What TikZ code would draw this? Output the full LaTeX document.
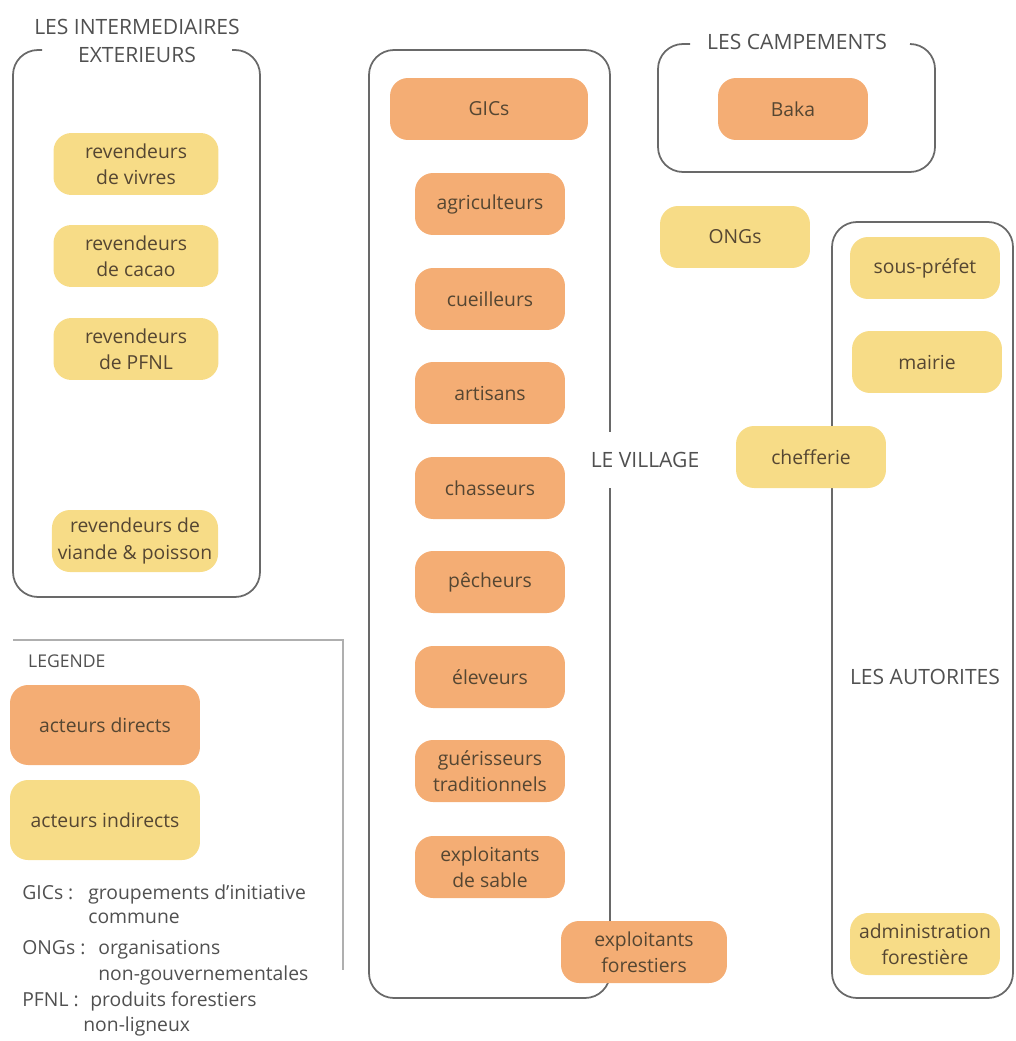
\documentclass[tikz,border=0pt]{standalone}
\usepackage{fontspec}
\setmainfont{Open Sans}
\usetikzlibrary{positioning}

\definecolor{orangeact}{RGB}{244,173,116}
\definecolor{jauneact}{RGB}{247,220,135}
\definecolor{traitgris}{RGB}{105,105,105}
\definecolor{legendgris}{RGB}{175,175,175}
\definecolor{textegris}{RGB}{80,80,80}
\definecolor{textebrun}{RGB}{85,70,50}

\tikzset{
  acteur/.style={rounded corners=0.36cm, minimum width=3cm, minimum height=1.24cm,
    align=center, text=textebrun, font=\fontsize{11}{15}\selectfont},
  direct/.style={acteur, fill=orangeact},
  indirect/.style={acteur, fill=jauneact},
  cadre/.style={draw=traitgris, line width=1pt, rounded corners=0.5cm},
  titre/.style={text=textegris, align=center, font=\fontsize{12}{15.5}\selectfont},
  abrev/.style={anchor=base west, text=textegris, inner sep=0pt, font=\fontsize{11}{13}\selectfont},
}

\begin{document}
\begin{tikzpicture}[x=0.02cm,y=-0.02cm]
\useasboundingbox (0,0) rectangle (1016,1041);

% les intermediaires exterieurs
\draw[cadre] (42,50) -- (13,50) -- (13,597) -- (260,597) -- (260,50) -- (232,50);
\node[titre] (interm) at (137,41) {LES INTERMEDIAIRES\\EXTERIEURS};
\node[indirect, minimum width=3.3cm] (vivres) at (136,164) {revendeurs\\de vivres};
\node[indirect, minimum width=3.3cm] (cacao) at (136,256) {revendeurs\\de cacao};
\node[indirect, minimum width=3.3cm] (pfnl) at (136,349) {revendeurs\\de PFNL};
\node[indirect, minimum width=3.3cm] (viande) at (135,541) {revendeurs de\\viande \& poisson};

% le village
\draw[cadre] (369,50) rectangle (610,998);
\node[titre, fill=white, inner xsep=2pt, inner ysep=0.4cm] (village) at (645,460) {LE VILLAGE};
\node[direct, minimum width=3.96cm] (gics) at (489,109) {GICs};
\node[direct] (agri) at (490,204) {agriculteurs};
\node[direct] (cueil) at (490,299) {cueilleurs};
\node[direct] (artis) at (490,393) {artisans};
\node[direct] (chass) at (490,488) {chasseurs};
\node[direct] (pech) at (490,582) {pêcheurs};
\node[direct] (elev) at (490,677) {éleveurs};
\node[direct] (gueri) at (490,771) {guérisseurs\\traditionnels};
\node[direct] (sable) at (490,867) {exploitants\\de sable};
\node[direct, minimum width=3.32cm] (forest) at (644,952) {exploitants\\forestiers};

% les campements
\draw[cadre] (690,44) -- (658,44) -- (658,172) -- (935,172) -- (935,44) -- (910,44);
\node[titre] (campem) at (797,42) {LES CAMPEMENTS};
\node[direct] (baka) at (793,109) {Baka};

\node[indirect] (ongs) at (735,237) {ONGs};

% les autorites
\draw[cadre] (832,222) rectangle (1013,998);
\node[titre] (autor) at (925,677) {LES AUTORITES};
\node[indirect] (prefet) at (925,268) {sous-préfet};
\node[indirect] (mairie) at (927,362) {mairie};
\node[indirect] (chef) at (811,457) {chefferie};
\node[indirect] (admin) at (925,944) {administration\\forestière};

% legende
\draw[legendgris, line width=0.8pt] (13,640) -- (343,640) -- (343,970);
\node[titre, anchor=west, font=\fontsize{10}{12}\selectfont] (legende) at (22,661) {LEGENDE};
\node[direct, minimum width=3.8cm, minimum height=1.6cm] (ldirect) at (105,725) {acteurs directs};
\node[indirect, minimum width=3.8cm, minimum height=1.6cm] (lindirect) at (105,820) {acteurs indirects};
\node[abrev] (gicsa) at (22,899) {GICs~:};
\node[abrev] (gicsb) at (88,899) {groupements d’initiative};
\node[abrev] (gicsc) at (88,923) {commune};
\node[abrev] (ongsa) at (22,954) {ONGs~:};
\node[abrev] (ongsb) at (98,954) {organisations};
\node[abrev] (ongsc) at (98,980) {non-gouvernementales};
\node[abrev] (pfnla) at (22,1006) {PFNL~:};
\node[abrev] (pfnlb) at (90,1006) {produits forestiers};
\node[abrev] (pfnlc) at (83,1031) {non-ligneux};
\end{tikzpicture}
\end{document}
